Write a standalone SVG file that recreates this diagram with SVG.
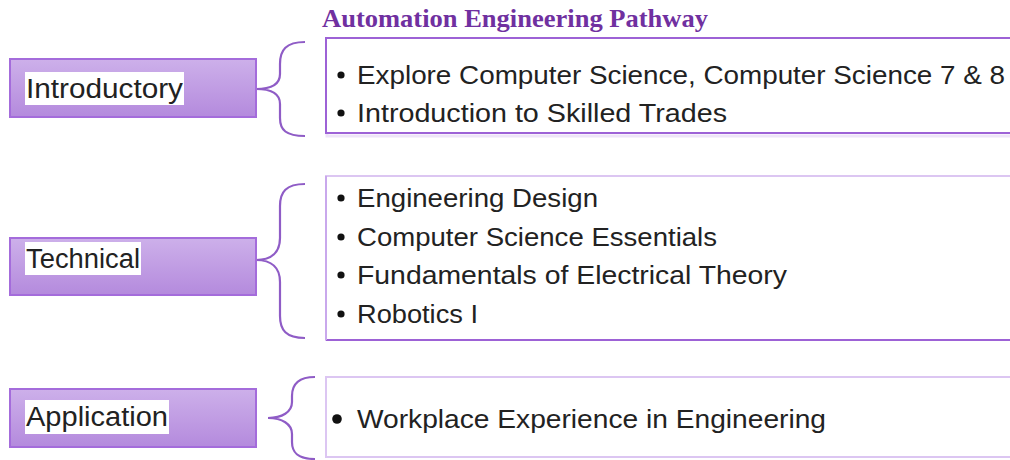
<svg xmlns="http://www.w3.org/2000/svg" width="1010" height="460" viewBox="0 0 1010 460">
<defs>
<linearGradient id="lg" x1="0" y1="0" x2="0" y2="1">
<stop offset="0" stop-color="#CDB0EA"/>
<stop offset="1" stop-color="#B48ADD"/>
</linearGradient>
<style>
.lbl{fill:url(#lg);stroke:#A46CDB;stroke-width:2}
.lt{font-family:"Liberation Sans",Arial,sans-serif;font-size:27px;fill:#222}
.ct{font-family:"Liberation Sans",Arial,sans-serif;font-size:26px;fill:#222}
.box{fill:#fff;stroke:#9D62D6;stroke-width:2}
.boxl{fill:#fff;stroke:#DCC6F2;stroke-width:2}
.brace{fill:none;stroke:#8F5CC6;stroke-width:2.2}
.bul{fill:#111}
.title{font-family:"Liberation Serif","Times New Roman",serif;font-weight:bold;font-size:26px;fill:#7030A0}
</style>
</defs>
<rect width="1010" height="460" fill="#fff"/>
<text class="title" x="322" y="27" textLength="386" lengthAdjust="spacingAndGlyphs">Automation Engineering Pathway</text>

<g id="connectors">
<path class="brace" d="M305,42 C286,42 280,50 280,64 L280,74 C280,84 272,89 256,89 C272,89 280,94 280,104 L280,118 C280,130 286,136 305,136"/>
<path class="brace" d="M305,184 C286,184 280,192 280,206 L280,238 C280,252 272,260 256,260 C272,260 280,268 280,282 L280,316 C280,330 286,338 305,338"/>
<path class="brace" d="M315,377 C298,377 292,385 292,396 L292,402 C292,412 282,418 268,418 C282,418 292,424 292,434 L292,442 C292,453 298,459 315,459"/>
</g>

<g id="introductory">
<rect class="lbl" x="10" y="59" width="246" height="58"/>
<rect x="25" y="72" width="159" height="33" fill="#fff"/>
<text class="lt" x="26" y="98" textLength="157" lengthAdjust="spacingAndGlyphs">Introductory</text>
</g>
<g id="introductory-courses">
<rect x="327" y="40" width="700" height="96" fill="none" stroke="#EEE4F8" stroke-width="3"/>
<rect class="box" x="326" y="38" width="700" height="95"/>
<circle class="bul" cx="341" cy="75" r="3.6"/>
<text class="ct" x="357" y="84" textLength="648" lengthAdjust="spacingAndGlyphs">Explore Computer Science, Computer Science 7 &amp; 8</text>
<circle class="bul" cx="341" cy="113" r="3.6"/>
<text class="ct" x="357" y="122" textLength="370" lengthAdjust="spacingAndGlyphs">Introduction to Skilled Trades</text>
</g>

<g id="technical">
<rect class="lbl" x="10" y="238" width="246" height="57"/>
<rect x="25" y="242" width="116" height="33" fill="#fff"/>
<text class="lt" x="26" y="268" textLength="114" lengthAdjust="spacingAndGlyphs">Technical</text>
</g>
<g id="technical-courses">
<rect class="boxl" x="326" y="176" width="700" height="164"/>
<line x1="326" y1="340" x2="1010" y2="340" stroke="#9D62D6" stroke-width="2"/>
<line x1="326" y1="176" x2="326" y2="340" stroke="#C9A8EC" stroke-width="2"/>
<circle class="bul" cx="341" cy="198" r="3.6"/>
<text class="ct" x="357" y="207" textLength="241" lengthAdjust="spacingAndGlyphs">Engineering Design</text>
<circle class="bul" cx="341" cy="237" r="3.6"/>
<text class="ct" x="357" y="246" textLength="360" lengthAdjust="spacingAndGlyphs">Computer Science Essentials</text>
<circle class="bul" cx="341" cy="275" r="3.6"/>
<text class="ct" x="357" y="284" textLength="430" lengthAdjust="spacingAndGlyphs">Fundamentals of Electrical Theory</text>
<circle class="bul" cx="341" cy="314" r="3.6"/>
<text class="ct" x="357" y="323" textLength="121" lengthAdjust="spacingAndGlyphs">Robotics I</text>
</g>

<g id="application">
<rect class="lbl" x="10" y="389" width="246" height="58"/>
<rect x="25" y="400" width="144" height="34" fill="#fff"/>
<text class="lt" x="26" y="426" textLength="142" lengthAdjust="spacingAndGlyphs">Application</text>
</g>
<g id="application-courses">
<rect class="boxl" x="326" y="377" width="700" height="80"/>
<circle class="bul" cx="337" cy="419" r="4.8"/>
<text class="ct" x="357" y="428" textLength="469" lengthAdjust="spacingAndGlyphs">Workplace Experience in Engineering</text>
</g>
</svg>
